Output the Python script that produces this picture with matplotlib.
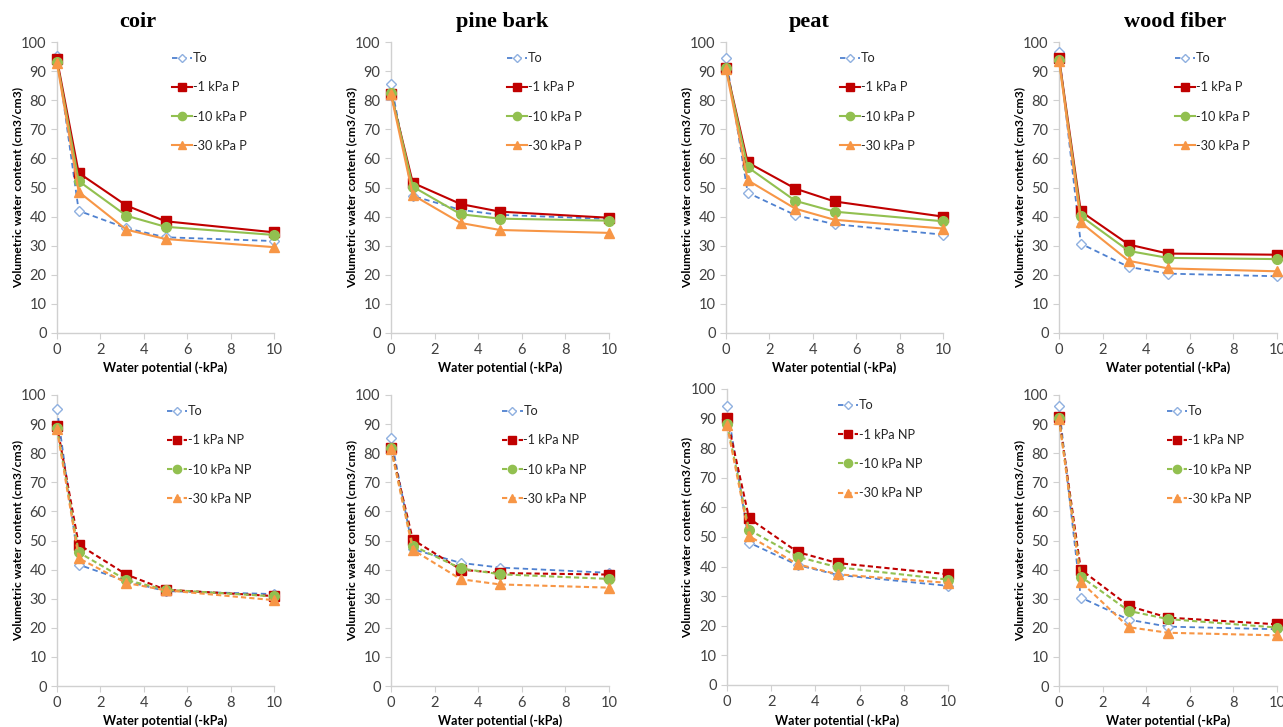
import matplotlib.pyplot as plt

plt.rcParams['font.family'] = ['Lato', 'DejaVu Sans']

# water potential (-kPa)
x = [0, 1, 3.2, 5, 10]

substrates = ['coir', 'pine bark', 'peat', 'wood fiber']

# top row: P treatments
to_p = {
    'coir': [95.3, 42.0, 36.0, 32.9, 31.6],
    'pine bark': [85.7, 47.1, 42.3, 40.6, 39.2],
    'peat': [94.6, 48.2, 40.5, 37.4, 33.8],
    'wood fiber': [96.4, 30.7, 22.7, 20.4, 19.5],
}
kpa1_p = {
    'coir': [94.0, 55.0, 43.8, 38.4, 34.6],
    'pine bark': [82.3, 51.6, 44.3, 41.7, 39.6],
    'peat': [91.2, 58.6, 49.6, 45.2, 40.0],
    'wood fiber': [94.6, 41.8, 30.4, 27.3, 26.9],
}
kpa10_p = {
    'coir': [93.2, 52.2, 40.3, 36.5, 33.7],
    'pine bark': [82.6, 50.3, 40.8, 39.3, 38.6],
    'peat': [91.0, 57.0, 45.4, 41.7, 38.4],
    'wood fiber': [93.9, 40.2, 28.2, 25.8, 25.4],
}
kpa30_p = {
    'coir': [92.8, 48.5, 35.5, 32.3, 29.5],
    'pine bark': [82.0, 47.4, 37.8, 35.4, 34.4],
    'peat': [90.8, 52.5, 42.7, 38.9, 35.9],
    'wood fiber': [93.6, 38.0, 24.8, 22.2, 21.2],
}

# bottom row: NP treatments
to_np = {
    'coir': [95.1, 41.7, 36.0, 32.6, 31.6],
    'pine bark': [85.3, 47.0, 42.3, 40.7, 38.9],
    'peat': [94.4, 48.1, 40.5, 37.2, 33.5],
    'wood fiber': [96.2, 30.4, 22.8, 20.4, 19.5],
}
kpa1_np = {
    'coir': [89.5, 48.6, 38.3, 33.1, 30.9],
    'pine bark': [81.9, 50.3, 40.0, 38.8, 38.3],
    'peat': [90.1, 56.3, 44.9, 41.2, 37.4],
    'wood fiber': [92.4, 40.0, 27.5, 23.5, 21.2],
}
kpa10_np = {
    'coir': [88.7, 45.9, 36.4, 33.1, 30.8],
    'pine bark': [81.7, 48.2, 40.4, 38.4, 36.8],
    'peat': [88.2, 52.4, 43.3, 39.8, 35.6],
    'wood fiber': [92.1, 37.6, 25.8, 23.0, 20.1],
}
kpa30_np = {
    'coir': [88.2, 43.9, 35.4, 32.9, 29.5],
    'pine bark': [81.6, 46.8, 36.7, 34.9, 33.8],
    'peat': [87.7, 50.3, 40.8, 37.4, 34.5],
    'wood fiber': [91.9, 35.8, 20.2, 18.3, 17.4],
}

blue = '#4f81d0'
red = '#c00000'
green = '#92c050'
orange = '#f79646'

# axes boxes in pixels: left, right, top, bottom
W, H = 1283, 727
boxes_top = [(57, 274, 42, 333), (391, 609, 42, 333), (726, 943, 42, 333), (1059, 1277, 42, 333)]
boxes_bot = [(57, 274, 395, 686), (391, 609, 395, 686), (727, 948, 389, 685), (1059, 1277, 395, 686)]
leg_x_top = [0.53, 0.53, 0.525, 0.53]
leg_x_bot = [0.505, 0.51, 0.50, 0.495]
title_x = [138, 502, 809, 1175]

fig = plt.figure(figsize=(W / 100, H / 100), dpi=100)


def panel(box, name, series, suffix, dashed, legx):
    l, r, t, b = box
    ax = fig.add_axes([l / W, 1 - b / H, (r - l) / W, (b - t) / H])
    to, k1, k10, k30 = series
    ls = (0, (2.5, 1.5)) if dashed else '-'
    ax.plot(x, to[name], ls=(0, (3, 2)), color=blue, lw=1.3, marker='D', ms=5,
            mfc='white', mec='#8fb0e0', mew=1.0, label='To', clip_on=False, zorder=3)
    ax.plot(x, k1[name], ls=ls, color=red, lw=1.5, marker='s', ms=7,
            label='-1 kPa ' + suffix, clip_on=False, zorder=4)
    ax.plot(x, k10[name], ls=ls, color=green, lw=1.5, marker='o', ms=7,
            label='-10 kPa ' + suffix, clip_on=False, zorder=4)
    ax.plot(x, k30[name], ls=ls, color=orange, lw=1.5, marker='^', ms=7,
            label='-30 kPa ' + suffix, clip_on=False, zorder=4)
    ax.set_xlim(0, 10)
    ax.set_ylim(0, 100)
    ax.set_xticks(range(0, 11, 2))
    ax.set_yticks(range(0, 101, 10))
    for s in ['top', 'right']:
        ax.spines[s].set_visible(False)
    for s in ['left', 'bottom']:
        ax.spines[s].set_color('#d0d0d0')
        ax.spines[s].set_linewidth(1.0)
    ax.tick_params(colors='#d0d0d0', labelcolor='#404040', labelsize=10.5,
                   length=4, direction='out')
    ax.set_xlabel('Water potential (-kPa)', fontsize=9, fontweight='bold', va='center')
    ax.set_ylabel('Volumetric water content (cm3/cm3)', fontsize=8.7,
                  fontweight='bold', va='center')
    ax.xaxis.set_label_coords(0.5, -0.12)
    ax.yaxis.set_label_coords(-0.18, 0.5)
    leg = ax.legend(loc='upper left', bbox_to_anchor=(legx, 0.965), frameon=False,
                    fontsize=9.2, handlelength=1.6, handletextpad=0.05,
                    labelspacing=1.35, borderpad=0, borderaxespad=0, numpoints=1,
                    markerscale=0.85)
    for txt in leg.get_texts():
        txt.set_color('#262626')
    return ax


for i, name in enumerate(substrates):
    panel(boxes_top[i], name, (to_p, kpa1_p, kpa10_p, kpa30_p), 'P', False, leg_x_top[i])
    panel(boxes_bot[i], name, (to_np, kpa1_np, kpa10_np, kpa30_np), 'NP', True, leg_x_bot[i])
    fig.text(title_x[i] / W, 1 - 22 / H, name, ha='center', va='center',
             family='Liberation Serif', fontweight='bold', fontsize=16)

fig.savefig('out.png', dpi=100)
